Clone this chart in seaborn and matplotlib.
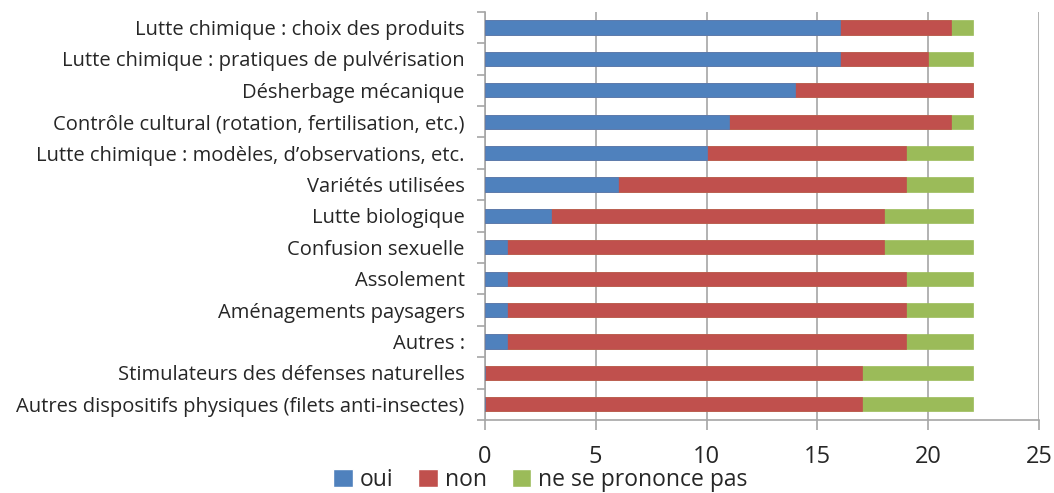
import matplotlib
matplotlib.use('Agg')
from matplotlib import pyplot as plt
from matplotlib.patches import Patch
import pandas as pd
import seaborn as sns

# categories, top to bottom
categories = [
    'Lutte chimique : choix des produits',
    'Lutte chimique : pratiques de pulvérisation',
    'Désherbage mécanique',
    'Contrôle cultural (rotation, fertilisation, etc.)',
    'Lutte chimique : modèles, d\u2019observations, etc.',
    'Variétés utilisées',
    'Lutte biologique',
    'Confusion sexuelle',
    'Assolement',
    'Aménagements paysagers',
    'Autres :',
    'Stimulateurs des défenses naturelles',
    'Autres dispositifs physiques (filets anti-insectes)',
]
oui = [16, 16, 14, 11, 10, 6, 3, 1, 1, 1, 1, 0, 0]
non = [5, 4, 8, 10, 9, 13, 15, 17, 18, 18, 18, 17, 17]
nsp = [1, 2, 0, 1, 3, 3, 4, 4, 3, 3, 3, 5, 5]
series_names = ['oui', 'non', 'ne se prononce pas']
colors = ['#4f81bd', '#c0504d', '#9bbb59']
x_ticks = [0, 5, 10, 15, 20, 25]

df = pd.DataFrame({'cat': categories, 'oui': oui, 'non': non, 'nsp': nsp})
df['c_oui'] = df['oui']
df['c_non'] = df['oui'] + df['non']
df['c_nsp'] = df['c_non'] + df['nsp']

sns.set_style('white')
plt.rcParams['font.family'] = ['Open Sans', 'DejaVu Sans']

fig, ax = plt.subplots(figsize=(10.54, 4.93), dpi=100)
fig.subplots_adjust(left=0.460, right=0.986, top=0.976, bottom=0.148)

# stacked bars drawn back to front
for col, c in zip(['c_nsp', 'c_non', 'c_oui'], colors[::-1]):
    sns.barplot(data=df, x=col, y='cat', color=c, orient='h', width=0.45,
                saturation=1, ax=ax, zorder=3, edgecolor=c, linewidth=0.5)

ax.set_xlim(0, 25)
ax.set_ylim(len(categories) - 0.5, -0.5)
ax.set_xticks(x_ticks)
ax.set_xlabel('')
ax.set_ylabel('')
ax.xaxis.grid(True, color='#a6a6a6', linewidth=1.2, zorder=0)
ax.set_axisbelow(True)

for s in ['top', 'right']:
    ax.spines[s].set_visible(False)
for s in ['left', 'bottom']:
    ax.spines[s].set_color('#a6a6a6')
    ax.spines[s].set_linewidth(1.2)

ax.tick_params(axis='x', which='major', direction='out', length=7, width=1.2,
               color='#a6a6a6', labelsize=17, pad=11, bottom=True)
ax.tick_params(axis='y', which='major', length=0, labelsize=14.5, pad=14.5)
ax.set_yticks([i + 0.5 for i in range(-1, len(categories))], minor=True)
ax.tick_params(axis='y', which='minor', direction='out', length=6, width=1.2,
               color='#a6a6a6', left=True)

handles = [Patch(facecolor=c, label=n) for c, n in zip(colors, series_names)]
fig.legend(handles=handles, loc='center left', bbox_to_anchor=(0.316, 0.027),
           ncol=3, frameon=False, fontsize=16.5, handlelength=0.85,
           handleheight=0.85, handletextpad=0.3, columnspacing=1.1,
           borderpad=0, borderaxespad=0)

fig.savefig('out.png', dpi=100)
